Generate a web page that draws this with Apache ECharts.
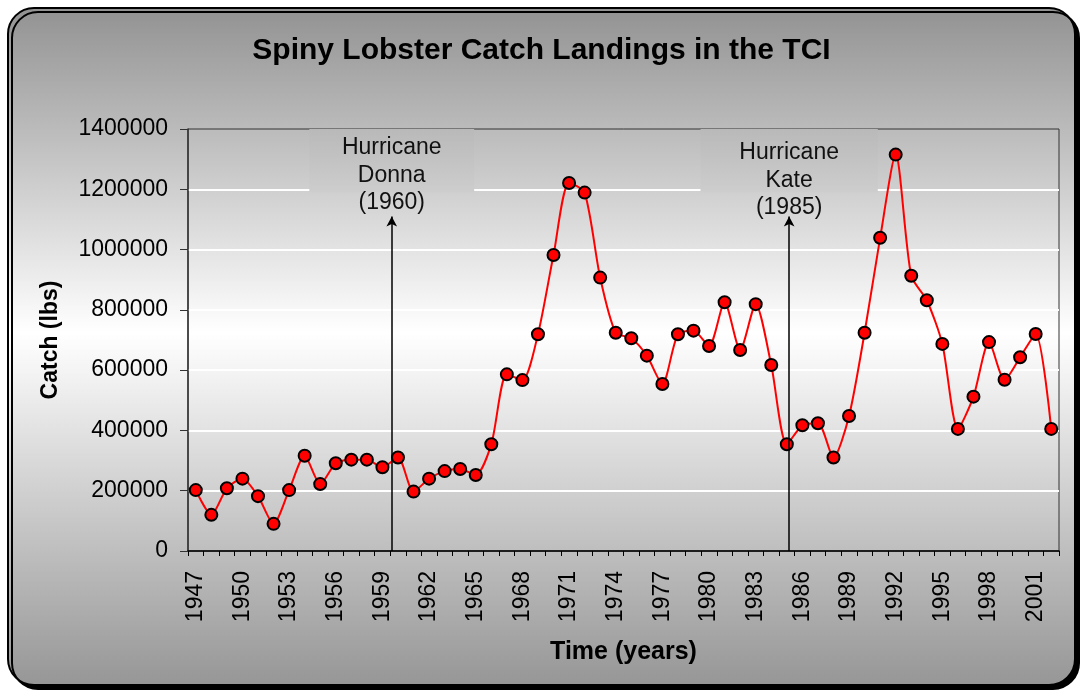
<!DOCTYPE html>
<html>
<head>
<meta charset="utf-8">
<script src="https://cdn.jsdelivr.net/npm/echarts@6/dist/echarts.min.js"></script>
<style>
html,body{margin:0;padding:0;background:#fff;}
#chart{width:1083px;height:691px;}
</style>
</head>
<body>
<div id="chart"></div>
<script>
const years = ['1947','1948','1949','1950','1951','1952','1953','1954','1955','1956',
  '1957','1958','1959','1960','1961','1962','1963','1964','1965','1966',
  '1967','1968','1969','1970','1971','1972','1973','1974','1975','1976',
  '1977','1978','1979','1980','1981','1982','1983','1984','1985','1986',
  '1987','1988','1989','1990','1991','1992','1993','1994','1995','1996',
  '1997','1998','1999','2000','2001','2002'];
const catchLbs = [202000,120000,208000,240000,182000,90000,202000,316000,222000,291000,
  303000,303000,278000,310000,197000,240000,265000,272000,252000,354000,
  586000,567000,719000,982000,1221000,1189000,907000,724000,706000,648000,
  554000,719000,731000,680000,825000,667000,819000,617000,354000,417000,
  424000,310000,448000,724000,1039000,1315000,913000,832000,687000,405000,
  512000,693000,568000,643000,720000,405000];
const yTicks = [0,200000,400000,600000,800000,1000000,1200000,1400000];
const hurricaneNames = ['Donna','Kate'];
const hurricaneYears = [1960, 1985];
const hurricaneMarkAt = [1959.6, 1985.15];   // where the arrow was drawn on the time axis
const hurricaneArrowTop = [1110000, 1110000];

const FONT = 'Liberation Sans, Arial, sans-serif';
const chart = echarts.init(document.getElementById('chart'));

const yearMin = Number(years[0]) - 0.5, yearMax = Number(years[years.length-1]) + 0.5;
const labelDist = [0, -5];
const boxHalf = [5.3, 5.7];

const markLineData = hurricaneNames.map((n, i) => [
  {coord: [hurricaneMarkAt[i], 0], symbol: 'none'},
  {coord: [hurricaneMarkAt[i], hurricaneArrowTop[i]],
   label: {distance: labelDist[i], formatter: 'Hurricane\n' + n + '\n(' + hurricaneYears[i] + ')'}}
]);
const markAreaData = hurricaneNames.map((n, i) => [
  {coord: [hurricaneMarkAt[i] - boxHalf[i], 1190000]},
  {coord: [hurricaneMarkAt[i] + boxHalf[i], yTicks[yTicks.length-1] + 4000]}
]);

chart.setOption({
  animation: false,
  backgroundColor: '#ffffff',
  graphic: [{
    type: 'rect', z: -100, silent: true,
    shape: {x: 8, y: 8, width: 1067, height: 677, r: 26},
    style: {
      fill: new echarts.graphic.LinearGradient(0, 0, 0, 1, [
        {offset: 0, color: '#929292'},
        {offset: 0.48, color: '#ffffff'},
        {offset: 1, color: '#969696'}
      ]),
      stroke: '#000', lineWidth: 2,
      shadowColor: '#000', shadowOffsetX: 4, shadowOffsetY: 4, shadowBlur: 0
    }
  }],
  title: {
    text: 'Spiny Lobster Catch Landings in the TCI',
    left: 'center', top: 31,
    textStyle: {fontFamily: FONT, fontSize: 30, fontWeight: 'bold', color: '#000'}
  },
  grid: {left: 188, right: 24, top: 129, bottom: 140, show: true,
         borderColor: '#333', borderWidth: 1, backgroundColor: 'transparent'},
  xAxis: [{
    type: 'category', data: years, boundaryGap: true,
    name: 'Time (years)', nameLocation: 'middle', nameGap: 89,
    nameTextStyle: {fontFamily: FONT, fontSize: 25, fontWeight: 'bold', color: '#000'},
    axisLine: {lineStyle: {color: '#000', width: 1.5}},
    axisTick: {show: true, interval: 0, length: 5, lineStyle: {color: '#000'}},
    axisLabel: {interval: 2, rotate: 90, margin: 20, fontFamily: FONT, fontSize: 23, color: '#000'},
    splitLine: {show: false}
  }, {
    type: 'value', min: yearMin, max: yearMax, show: false
  }],
  yAxis: {
    type: 'value', min: 0, max: 1400000, interval: 200000,
    name: 'Catch (lbs)', nameLocation: 'middle', nameGap: 126,
    nameTextStyle: {fontFamily: FONT, fontSize: 23, fontWeight: 'bold', color: '#000'},
    axisLine: {show: true, lineStyle: {color: '#333', width: 1.5}},
    axisTick: {show: true, length: 8, lineStyle: {color: '#333'}},
    axisLabel: {margin: 20, fontFamily: FONT, fontSize: 23, color: '#000', formatter: v => String(v)},
    splitLine: {show: true, showMinLine: false, showMaxLine: false, lineStyle: {color: '#ffffff', width: 2}}
  },
  series: [{
    type: 'line', xAxisIndex: 1, clip: false, silent: true,
    data: hurricaneMarkAt.map(x => [x, 0]), symbol: 'none', lineStyle: {width: 0},
    markArea: {
      silent: true,
      itemStyle: {color: new echarts.graphic.LinearGradient(0, 0, 0, 1, [
        {offset: 0, color: '#b9b9b9'}, {offset: 1, color: '#cdcdcd'}])},
      data: markAreaData
    },
    markLine: {
      silent: true, animation: false,
      symbol: ['none', 'arrow'], symbolSize: [8, 10],
      lineStyle: {color: '#000', width: 1.5, type: 'solid'},
      label: {show: true, position: 'end', fontFamily: FONT, fontSize: 23, lineHeight: 27.5, color: '#111'},
      data: markLineData
    }
  }, {
    type: 'line', data: catchLbs, smooth: 0.25,
    symbol: 'circle', symbolSize: 12, showAllSymbol: true,
    itemStyle: {color: '#ff0000', borderColor: '#000', borderWidth: 2},
    lineStyle: {color: '#ff0000', width: 2}
  }]
});
</script>
</body>
</html>
